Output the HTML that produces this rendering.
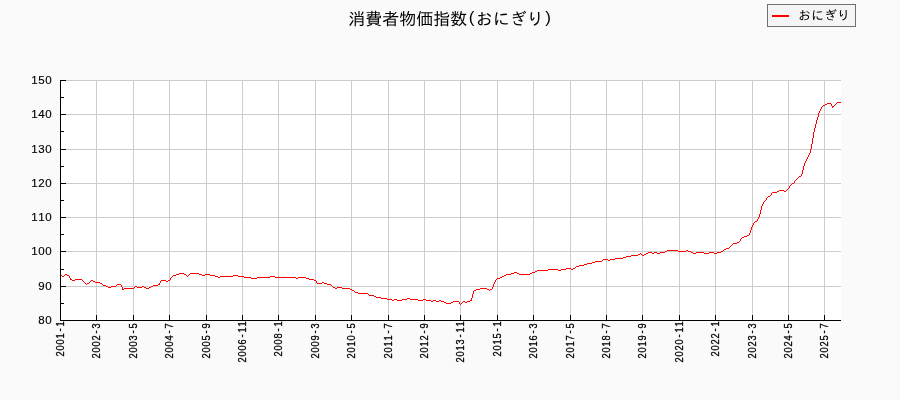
<!DOCTYPE html>
<html lang="ja"><head><meta charset="utf-8"><title>消費者物価指数(おにぎり)</title>
<style>
html,body{margin:0;padding:0;background:#fafafa;}
body{width:900px;height:400px;overflow:hidden;}
svg{display:block;}
.jp{font-family:"Liberation Sans","IPAGothic","Noto Sans CJK JP",sans-serif;}
.num{font-family:"Liberation Sans",sans-serif;}
</style></head><body>
<svg width="900" height="400" viewBox="0 0 900 400">
<rect x="0" y="0" width="900" height="400" fill="#fafafa"/>
<g shape-rendering="crispEdges">
<rect id="plot-bg" x="61" y="80" width="780" height="240" fill="#ffffff"/>
<path id="grid" d="M96 80h1v235h-1zM133 80h1v235h-1zM169 80h1v235h-1zM206 80h1v235h-1zM242 80h1v235h-1zM278 80h1v235h-1zM315 80h1v235h-1zM351 80h1v235h-1zM388 80h1v235h-1zM424 80h1v235h-1zM460 80h1v235h-1zM497 80h1v235h-1zM533 80h1v235h-1zM570 80h1v235h-1zM606 80h1v235h-1zM642 80h1v235h-1zM679 80h1v235h-1zM715 80h1v235h-1zM752 80h1v235h-1zM788 80h1v235h-1zM824 80h1v235h-1zM66 286h775v1h-775zM66 251h775v1h-775zM66 217h775v1h-775zM66 183h775v1h-775zM66 149h775v1h-775zM66 114h775v1h-775zM66 80h775v1h-775z" fill="#cccccc"/>
<path id="series-onigiri" d="M61 275h1v1h-1zM62 276h2v1h-2zM64 275h1v1h-1zM65 274h2v1h-2zM67 275h2v1h-2zM69 276h1v2h-1zM70 278h1v2h-1zM71 279h1v1h-1zM72 280h3v1h-3zM75 279h7v1h-7zM82 280h1v1h-1zM83 281h1v1h-1zM84 282h1v1h-1zM85 283h1v1h-1zM86 284h1v1h-1zM87 283h2v1h-2zM89 282h1v1h-1zM90 281h1v1h-1zM91 280h2v1h-2zM93 281h2v1h-2zM95 282h5v1h-5zM100 283h2v1h-2zM102 284h1v1h-1zM103 285h3v1h-3zM106 286h2v1h-2zM108 287h3v1h-3zM111 286h5v1h-5zM116 285h1v1h-1zM117 284h4v1h-4zM121 285h1v2h-1zM122 287h1v3h-1zM123 289h1v1h-1zM124 288h10v1h-10zM134 287h1v1h-1zM135 286h2v1h-2zM137 287h5v1h-5zM142 286h2v1h-2zM144 287h2v1h-2zM146 288h3v1h-3zM149 287h2v1h-2zM151 286h2v1h-2zM153 285h5v1h-5zM158 284h1v1h-1zM159 283h1v2h-1zM160 281h1v2h-1zM161 280h5v1h-5zM166 281h2v1h-2zM168 280h2v1h-2zM170 278h1v2h-1zM171 277h1v1h-1zM172 276h1v1h-1zM173 275h3v1h-3zM176 274h3v1h-3zM179 273h5v1h-5zM184 274h2v1h-2zM186 275h1v1h-1zM187 276h1v1h-1zM188 275h1v1h-1zM189 274h1v1h-1zM190 273h9v1h-9zM199 274h3v1h-3zM202 275h3v1h-3zM205 274h5v1h-5zM210 275h5v1h-5zM215 276h3v1h-3zM218 277h2v1h-2zM220 276h13v1h-13zM233 275h5v1h-5zM238 276h6v1h-6zM244 277h7v1h-7zM251 278h6v1h-6zM257 277h13v1h-13zM270 276h5v1h-5zM275 277h21v1h-21zM296 278h2v1h-2zM298 277h8v1h-8zM306 278h3v1h-3zM309 279h5v1h-5zM314 280h2v1h-2zM316 281h1v2h-1zM317 283h5v1h-5zM322 282h2v1h-2zM324 283h3v1h-3zM327 284h4v1h-4zM331 285h1v1h-1zM332 286h1v1h-1zM333 287h2v1h-2zM335 288h2v1h-2zM337 287h5v1h-5zM342 288h8v1h-8zM350 289h2v1h-2zM352 290h2v1h-2zM354 291h1v1h-1zM355 292h3v1h-3zM358 293h10v1h-10zM368 294h1v1h-1zM369 295h5v1h-5zM374 296h2v1h-2zM376 297h5v1h-5zM381 298h6v1h-6zM387 299h5v1h-5zM392 300h2v1h-2zM394 299h3v1h-3zM397 300h5v1h-5zM402 299h5v1h-5zM407 298h3v1h-3zM410 299h8v1h-8zM418 300h5v1h-5zM423 299h3v1h-3zM426 300h5v1h-5zM431 301h2v1h-2zM433 300h3v1h-3zM436 301h3v1h-3zM439 300h2v1h-2zM441 301h3v1h-3zM444 302h2v1h-2zM446 303h5v1h-5zM451 302h2v1h-2zM453 301h6v1h-6zM459 302h1v2h-1zM460 304h1v1h-1zM461 303h1v1h-1zM462 302h1v1h-1zM463 301h2v1h-2zM465 302h2v1h-2zM467 301h3v1h-3zM470 300h1v1h-1zM471 298h1v3h-1zM472 294h1v4h-1zM473 291h1v3h-1zM474 290h2v1h-2zM476 289h4v1h-4zM480 288h7v1h-7zM487 289h2v1h-2zM489 290h1v1h-1zM490 289h2v1h-2zM492 287h1v2h-1zM493 284h1v3h-1zM494 282h1v2h-1zM495 280h1v2h-1zM496 279h1v1h-1zM497 278h3v1h-3zM500 277h2v1h-2zM502 276h2v1h-2zM504 275h2v1h-2zM506 274h5v1h-5zM511 273h3v1h-3zM514 272h3v1h-3zM517 273h2v1h-2zM519 274h11v1h-11zM530 273h2v1h-2zM532 272h3v1h-3zM535 271h2v1h-2zM537 270h11v1h-11zM548 269h10v1h-10zM558 270h3v1h-3zM561 269h5v1h-5zM566 268h5v1h-5zM571 269h2v1h-2zM573 268h2v1h-2zM575 267h1v1h-1zM576 266h3v1h-3zM579 265h5v1h-5zM584 264h3v1h-3zM587 263h5v1h-5zM592 262h3v1h-3zM595 261h7v1h-7zM602 260h1v1h-1zM603 259h5v1h-5zM608 260h2v1h-2zM610 259h5v1h-5zM615 258h8v1h-8zM623 257h3v1h-3zM626 256h5v1h-5zM631 255h7v1h-7zM638 254h2v1h-2zM640 253h1v1h-1zM641 254h1v1h-1zM642 255h2v1h-2zM644 254h2v1h-2zM646 253h2v1h-2zM648 252h4v1h-4zM652 253h2v1h-2zM654 252h3v1h-3zM657 253h3v1h-3zM660 252h5v1h-5zM665 251h2v1h-2zM667 250h11v1h-11zM678 251h8v1h-8zM686 250h2v1h-2zM688 251h3v1h-3zM691 252h2v1h-2zM693 253h3v1h-3zM696 252h8v1h-8zM704 253h5v1h-5zM709 252h5v1h-5zM714 253h3v1h-3zM717 252h4v1h-4zM721 251h2v1h-2zM723 250h1v1h-1zM724 249h2v1h-2zM726 248h3v1h-3zM729 247h1v1h-1zM730 246h1v1h-1zM731 245h1v1h-1zM732 244h1v1h-1zM733 243h4v1h-4zM737 242h2v1h-2zM739 241h1v1h-1zM740 239h1v2h-1zM741 238h1v1h-1zM742 237h2v1h-2zM744 236h3v1h-3zM747 235h2v1h-2zM749 233h1v2h-1zM750 230h1v3h-1zM751 227h1v3h-1zM752 225h1v2h-1zM753 223h1v2h-1zM754 222h1v1h-1zM755 221h2v1h-2zM757 219h1v2h-1zM758 217h1v2h-1zM759 214h1v3h-1zM760 210h1v4h-1zM761 206h1v4h-1zM762 204h1v2h-1zM763 202h1v2h-1zM764 201h1v1h-1zM765 200h1v1h-1zM766 198h1v2h-1zM767 197h1v1h-1zM768 196h2v1h-2zM770 195h1v1h-1zM771 193h1v2h-1zM772 192h5v1h-5zM777 191h2v1h-2zM779 190h5v1h-5zM784 191h2v1h-2zM786 190h1v1h-1zM787 189h1v1h-1zM788 188h1v1h-1zM789 186h1v2h-1zM790 185h1v1h-1zM791 184h1v1h-1zM792 183h2v1h-2zM794 181h1v2h-1zM795 180h1v1h-1zM796 179h1v1h-1zM797 178h1v1h-1zM798 177h1v1h-1zM799 176h2v1h-2zM801 174h1v2h-1zM802 170h1v4h-1zM803 166h1v4h-1zM804 163h1v3h-1zM805 161h1v2h-1zM806 159h1v2h-1zM807 157h1v2h-1zM808 155h1v2h-1zM809 153h1v2h-1zM810 149h1v4h-1zM811 144h1v5h-1zM812 138h1v6h-1zM813 132h1v6h-1zM814 128h1v4h-1zM815 124h1v4h-1zM816 120h1v4h-1zM817 117h1v3h-1zM818 113h1v4h-1zM819 111h1v2h-1zM820 109h1v2h-1zM821 107h1v2h-1zM822 106h1v1h-1zM823 105h2v1h-2zM825 104h2v1h-2zM827 103h4v1h-4zM831 104h1v2h-1zM832 106h1v2h-1zM833 106h1v1h-1zM834 105h1v1h-1zM835 104h1v1h-1zM836 103h1v1h-1zM837 102h4v1h-4z" fill="#ff0000"/>
<path id="axes" d="M60 80h1v241h-1zM60 320h781v1h-781zM60 320h6v1h-6zM60 286h6v1h-6zM60 251h6v1h-6zM60 217h6v1h-6zM60 183h6v1h-6zM60 149h6v1h-6zM60 114h6v1h-6zM60 80h6v1h-6zM60 303h4v1h-4zM60 269h4v1h-4zM60 234h4v1h-4zM60 200h4v1h-4zM60 166h4v1h-4zM60 131h4v1h-4zM60 97h4v1h-4zM60 315h1v5h-1zM96 315h1v5h-1zM133 315h1v5h-1zM169 315h1v5h-1zM206 315h1v5h-1zM242 315h1v5h-1zM278 315h1v5h-1zM315 315h1v5h-1zM351 315h1v5h-1zM388 315h1v5h-1zM424 315h1v5h-1zM460 315h1v5h-1zM497 315h1v5h-1zM533 315h1v5h-1zM570 315h1v5h-1zM606 315h1v5h-1zM642 315h1v5h-1zM679 315h1v5h-1zM715 315h1v5h-1zM752 315h1v5h-1zM788 315h1v5h-1zM824 315h1v5h-1z" fill="#000000"/>
<rect id="legend-box" x="767.5" y="4.5" width="88" height="22" fill="#f5f5f5" stroke="#707070" stroke-width="1"/>
<rect id="legend-swatch" x="772" y="15" width="17" height="2" fill="#ff0000"/>
</g>
<text id="chart-title" class="jp" x="348.30 365.30 382.30 399.30 416.30 433.30 450.30 468.70 475.77 492.77 509.77 526.77 545.17" y="24.60" dy="0 0 0 0 0 0 0 -2.1 2.1 0 0 0 -2.1" font-size="17.00" fill="#000">消費者物価指数(おにぎり)</text>
<text id="legend-label" class="jp" x="798.10" y="19.90" font-size="13.00" fill="#000">おにぎり</text>
<g id="y-labels">
<text class="num" x="38.17 45.17" y="324.00" font-size="11.50" fill="#000" stroke="#000" stroke-width="0.15">80</text>
<text class="num" x="38.17 45.17" y="290.00" font-size="11.50" fill="#000" stroke="#000" stroke-width="0.15">90</text>
<text class="num" x="31.17 38.17 45.17" y="255.00" font-size="11.50" fill="#000" stroke="#000" stroke-width="0.15">100</text>
<text class="num" x="31.17 38.17 45.17" y="221.00" font-size="11.50" fill="#000" stroke="#000" stroke-width="0.15">110</text>
<text class="num" x="31.17 38.17 45.17" y="187.00" font-size="11.50" fill="#000" stroke="#000" stroke-width="0.15">120</text>
<text class="num" x="31.17 38.17 45.17" y="153.00" font-size="11.50" fill="#000" stroke="#000" stroke-width="0.15">130</text>
<text class="num" x="31.17 38.17 45.17" y="118.00" font-size="11.50" fill="#000" stroke="#000" stroke-width="0.15">140</text>
<text class="num" x="31.17 38.17 45.17" y="84.00" font-size="11.50" fill="#000" stroke="#000" stroke-width="0.15">150</text>
</g>
<g id="x-labels">
<text class="num" transform="translate(64.00 321.00) rotate(-90) scale(0.800 1)" x="-44.48 -36.98 -29.48 -21.98 -13.18 -6.98" y="0" dy="0 0 0 0 -1 1" font-size="11.60" fill="#000" stroke="#000" stroke-width="0.30">2001-1</text>
<text class="num" transform="translate(100.00 323.00) rotate(-90) scale(0.800 1)" x="-44.48 -36.98 -29.48 -21.98 -13.18 -6.98" y="0" dy="0 0 0 0 -1 1" font-size="11.60" fill="#000" stroke="#000" stroke-width="0.30">2002-3</text>
<text class="num" transform="translate(137.00 323.00) rotate(-90) scale(0.800 1)" x="-44.48 -36.98 -29.48 -21.98 -13.18 -6.98" y="0" dy="0 0 0 0 -1 1" font-size="11.60" fill="#000" stroke="#000" stroke-width="0.30">2003-5</text>
<text class="num" transform="translate(173.00 323.00) rotate(-90) scale(0.800 1)" x="-44.48 -36.98 -29.48 -21.98 -13.18 -6.98" y="0" dy="0 0 0 0 -1 1" font-size="11.60" fill="#000" stroke="#000" stroke-width="0.30">2004-7</text>
<text class="num" transform="translate(210.00 323.00) rotate(-90) scale(0.800 1)" x="-44.48 -36.98 -29.48 -21.98 -13.18 -6.98" y="0" dy="0 0 0 0 -1 1" font-size="11.60" fill="#000" stroke="#000" stroke-width="0.30">2005-9</text>
<text class="num" transform="translate(246.00 321.00) rotate(-90) scale(0.800 1)" x="-51.98 -44.48 -36.98 -29.48 -20.68 -14.48 -6.98" y="0" dy="0 0 0 0 -1 1 0" font-size="11.60" fill="#000" stroke="#000" stroke-width="0.30">2006-11</text>
<text class="num" transform="translate(282.00 321.00) rotate(-90) scale(0.800 1)" x="-44.48 -36.98 -29.48 -21.98 -13.18 -6.98" y="0" dy="0 0 0 0 -1 1" font-size="11.60" fill="#000" stroke="#000" stroke-width="0.30">2008-1</text>
<text class="num" transform="translate(319.00 323.00) rotate(-90) scale(0.800 1)" x="-44.48 -36.98 -29.48 -21.98 -13.18 -6.98" y="0" dy="0 0 0 0 -1 1" font-size="11.60" fill="#000" stroke="#000" stroke-width="0.30">2009-3</text>
<text class="num" transform="translate(355.00 323.00) rotate(-90) scale(0.800 1)" x="-44.48 -36.98 -29.48 -21.98 -13.18 -6.98" y="0" dy="0 0 0 0 -1 1" font-size="11.60" fill="#000" stroke="#000" stroke-width="0.30">2010-5</text>
<text class="num" transform="translate(392.00 323.00) rotate(-90) scale(0.800 1)" x="-44.48 -36.98 -29.48 -21.98 -13.18 -6.98" y="0" dy="0 0 0 0 -1 1" font-size="11.60" fill="#000" stroke="#000" stroke-width="0.30">2011-7</text>
<text class="num" transform="translate(428.00 323.00) rotate(-90) scale(0.800 1)" x="-44.48 -36.98 -29.48 -21.98 -13.18 -6.98" y="0" dy="0 0 0 0 -1 1" font-size="11.60" fill="#000" stroke="#000" stroke-width="0.30">2012-9</text>
<text class="num" transform="translate(464.00 321.00) rotate(-90) scale(0.800 1)" x="-51.98 -44.48 -36.98 -29.48 -20.68 -14.48 -6.98" y="0" dy="0 0 0 0 -1 1 0" font-size="11.60" fill="#000" stroke="#000" stroke-width="0.30">2013-11</text>
<text class="num" transform="translate(501.00 321.00) rotate(-90) scale(0.800 1)" x="-44.48 -36.98 -29.48 -21.98 -13.18 -6.98" y="0" dy="0 0 0 0 -1 1" font-size="11.60" fill="#000" stroke="#000" stroke-width="0.30">2015-1</text>
<text class="num" transform="translate(537.00 323.00) rotate(-90) scale(0.800 1)" x="-44.48 -36.98 -29.48 -21.98 -13.18 -6.98" y="0" dy="0 0 0 0 -1 1" font-size="11.60" fill="#000" stroke="#000" stroke-width="0.30">2016-3</text>
<text class="num" transform="translate(574.00 323.00) rotate(-90) scale(0.800 1)" x="-44.48 -36.98 -29.48 -21.98 -13.18 -6.98" y="0" dy="0 0 0 0 -1 1" font-size="11.60" fill="#000" stroke="#000" stroke-width="0.30">2017-5</text>
<text class="num" transform="translate(610.00 323.00) rotate(-90) scale(0.800 1)" x="-44.48 -36.98 -29.48 -21.98 -13.18 -6.98" y="0" dy="0 0 0 0 -1 1" font-size="11.60" fill="#000" stroke="#000" stroke-width="0.30">2018-7</text>
<text class="num" transform="translate(646.00 323.00) rotate(-90) scale(0.800 1)" x="-44.48 -36.98 -29.48 -21.98 -13.18 -6.98" y="0" dy="0 0 0 0 -1 1" font-size="11.60" fill="#000" stroke="#000" stroke-width="0.30">2019-9</text>
<text class="num" transform="translate(683.00 321.00) rotate(-90) scale(0.800 1)" x="-51.98 -44.48 -36.98 -29.48 -20.68 -14.48 -6.98" y="0" dy="0 0 0 0 -1 1 0" font-size="11.60" fill="#000" stroke="#000" stroke-width="0.30">2020-11</text>
<text class="num" transform="translate(719.00 321.00) rotate(-90) scale(0.800 1)" x="-44.48 -36.98 -29.48 -21.98 -13.18 -6.98" y="0" dy="0 0 0 0 -1 1" font-size="11.60" fill="#000" stroke="#000" stroke-width="0.30">2022-1</text>
<text class="num" transform="translate(756.00 323.00) rotate(-90) scale(0.800 1)" x="-44.48 -36.98 -29.48 -21.98 -13.18 -6.98" y="0" dy="0 0 0 0 -1 1" font-size="11.60" fill="#000" stroke="#000" stroke-width="0.30">2023-3</text>
<text class="num" transform="translate(792.00 323.00) rotate(-90) scale(0.800 1)" x="-44.48 -36.98 -29.48 -21.98 -13.18 -6.98" y="0" dy="0 0 0 0 -1 1" font-size="11.60" fill="#000" stroke="#000" stroke-width="0.30">2024-5</text>
<text class="num" transform="translate(828.00 323.00) rotate(-90) scale(0.800 1)" x="-44.48 -36.98 -29.48 -21.98 -13.18 -6.98" y="0" dy="0 0 0 0 -1 1" font-size="11.60" fill="#000" stroke="#000" stroke-width="0.30">2025-7</text>
</g>
</svg>
</body></html>
